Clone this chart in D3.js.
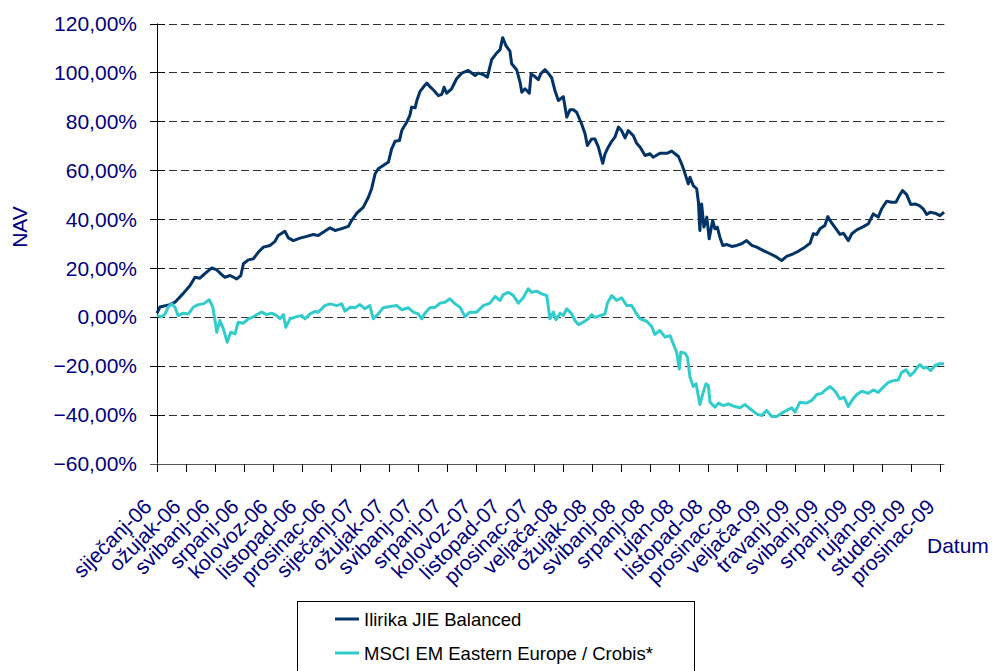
<!DOCTYPE html>
<html>
<head>
<meta charset="utf-8">
<script src="https://cdn.jsdelivr.net/npm/d3@7"></script>
<style>
  body { margin: 0; background: #fff; }
  text { font-family: "Liberation Sans", Arial, sans-serif; }
</style>
</head>
<body>
<svg id="chart" width="996" height="671"></svg>
<script>
// tick labels of the category axis (one per tick)
const monthLabels = ["siječanj-06", "ožujak-06", "svibanj-06", "srpanj-06", "kolovoz-06", "listopad-06",
  "prosinac-06", "siječanj-07", "ožujak-07", "svibanj-07", "srpanj-07", "kolovoz-07", "listopad-07",
  "prosinac-07", "veljača-08", "ožujak-08", "svibanj-08", "srpanj-08", "rujan-08", "listopad-08",
  "prosinac-08", "veljača-09", "travanj-09", "svibanj-09", "srpanj-09", "rujan-09", "studeni-09", "prosinac-09"];

const yTicks = [-60, -40, -20, 0, 20, 40, 60, 80, 100, 120];

const seriesNames = ["Ilirika JIE Balanced", "MSCI EM Eastern Europe / Crobis*"];

// [position on the tick axis, return in %]
const ilirika = [
  [0, 1.5], [0.10, 4], [0.45, 5], [0.62, 6], [0.90, 9.5], [1.14, 12.8], [1.31, 16.2], [1.48, 15.8],
  [1.66, 17.8], [1.89, 20], [2.06, 19.2], [2.23, 17.3], [2.34, 16.2], [2.52, 16.9], [2.75, 15.5],
  [2.89, 16.9], [2.98, 21.7], [3.15, 23.3], [3.32, 23.7], [3.49, 26.4], [3.67, 28.5], [3.90, 29.2],
  [4.07, 30.9], [4.18, 33.3], [4.41, 35], [4.53, 32.3], [4.70, 31.2], [4.93, 32.2], [5.16, 32.9],
  [5.39, 33.7], [5.56, 33.3], [5.73, 34.6], [5.97, 36.4], [6.14, 35.3], [6.37, 36.1], [6.60, 37],
  [6.71, 39.4], [6.89, 42.4], [7.11, 44.8], [7.29, 48.9], [7.40, 52.4], [7.52, 58.5], [7.63, 60.6],
  [7.80, 61.9], [7.98, 63.3], [8.09, 68.7], [8.21, 71.8], [8.36, 72.1], [8.44, 76.2], [8.61, 79.6],
  [8.72, 82.4], [8.78, 85.8], [8.90, 85.5], [8.96, 88.5], [9.07, 92.2], [9.18, 93.9], [9.30, 95.6],
  [9.41, 94.2], [9.55, 92.6], [9.70, 90.5], [9.82, 91], [9.90, 93.9], [9.99, 91.5], [10.16, 93.3],
  [10.33, 97.4], [10.51, 99.7], [10.73, 100.8], [10.97, 98.7], [11.08, 99.7], [11.25, 99.1],
  [11.39, 98], [11.54, 105.2], [11.69, 107.6], [11.83, 109.3], [11.92, 114.2], [12.03, 111],
  [12.17, 108.7], [12.23, 103.5], [12.40, 101.1], [12.52, 96], [12.58, 91.9], [12.69, 93.3],
  [12.84, 91.5], [12.90, 99.4], [13.03, 98.3], [13.15, 97], [13.23, 99.4], [13.38, 101.1],
  [13.49, 99.7], [13.61, 97.8], [13.72, 92.6], [13.84, 88.5], [14.01, 90.1], [14.13, 81.7],
  [14.24, 84.7], [14.36, 84.7], [14.47, 83.7], [14.64, 79], [14.76, 74.9], [14.84, 70.1],
  [14.99, 72.8], [15.10, 72.8], [15.22, 69.4], [15.37, 62.8], [15.45, 66.7], [15.56, 69.4],
  [15.68, 71.8], [15.79, 73.5], [15.91, 77.6], [16.02, 76.2], [16.14, 73.2], [16.25, 76.2],
  [16.42, 74.2], [16.54, 71], [16.66, 69.4], [16.83, 66], [17.00, 66.7], [17.11, 65.3],
  [17.34, 66.9], [17.58, 66.9], [17.75, 67.8], [17.98, 65.6], [18.09, 62.6], [18.21, 58.5],
  [18.32, 54.4], [18.38, 57.1], [18.49, 53.7], [18.61, 52.4], [18.67, 46.9], [18.72, 35.3],
  [18.78, 46.2], [18.86, 36.7], [18.96, 40.8], [19.04, 31.9], [19.16, 39.4], [19.24, 36],
  [19.32, 36.7], [19.41, 32.6], [19.51, 29.2], [19.64, 29.6], [19.82, 28.8], [19.99, 29.2],
  [20.16, 29.9], [20.33, 31.2], [20.51, 29.2], [20.68, 28.5], [20.91, 27.1], [21.14, 25.8],
  [21.37, 24.4], [21.54, 23], [21.71, 24.7], [21.94, 25.8], [22.11, 26.8], [22.34, 28.5],
  [22.52, 30.1], [22.63, 34], [22.75, 33.7], [22.86, 36], [23.03, 37.4], [23.13, 41], [23.27, 38.3],
  [23.44, 35.6], [23.55, 33.7], [23.67, 34.2], [23.84, 31.2], [23.96, 34], [24.13, 35.6],
  [24.36, 36.9], [24.53, 38.1], [24.70, 42.1], [24.87, 40.8], [24.99, 44.2], [25.16, 47.3],
  [25.33, 46.9], [25.48, 46.9], [25.60, 49.6], [25.71, 51.7], [25.85, 50], [25.99, 46],
  [26.14, 46.2], [26.29, 45.5], [26.42, 44.2], [26.54, 41.9], [26.66, 42.8], [26.83, 42.4],
  [27.00, 41.4], [27.14, 42.8]
];

const msci = [
  [0, 0.5], [0.16, 0], [0.28, 1.2], [0.39, 4.2], [0.51, 5.3], [0.62, 3.9], [0.73, 0.5], [0.91, 1.5],
  [1.08, 1.2], [1.25, 3.9], [1.42, 5], [1.60, 5.3], [1.80, 7], [1.92, 4.2], [2.00, -1.5], [2.06, -6.3],
  [2.17, -1.5], [2.29, -4.9], [2.42, -10.4], [2.54, -6.3], [2.69, -7], [2.80, -2.2], [2.98, -2.6],
  [3.15, -0.8], [3.32, 0], [3.49, 1.2], [3.61, 1.9], [3.78, 0.9], [3.96, 1.5], [4.13, 0.5],
  [4.24, -0.8], [4.36, 0.9], [4.44, -4.3], [4.59, -0.8], [4.82, 0.1], [4.99, 0.5], [5.10, -0.8],
  [5.28, 1.2], [5.45, 2.2], [5.56, 1.9], [5.79, 4.6], [5.97, 5.3], [6.20, 4.6], [6.37, 5.3],
  [6.48, 2.3], [6.66, 3.9], [6.83, 3.7], [7.00, 5], [7.17, 3.3], [7.34, 4.6], [7.46, -0.8],
  [7.63, 1.2], [7.80, 3.7], [8.03, 4.2], [8.27, 4.6], [8.44, 2.9], [8.67, 3.7], [8.84, 1.9],
  [9.01, 1.2], [9.13, -0.8], [9.24, 1.5], [9.41, 3.7], [9.59, 3.9], [9.76, 5.6], [9.93, 6],
  [10.10, 7.4], [10.28, 5.3], [10.45, 3.9], [10.62, 0.1], [10.79, 1.9], [11.02, 1.9], [11.25, 4.6],
  [11.48, 5.6], [11.66, 8.3], [11.83, 6.7], [11.94, 9.1], [12.11, 10], [12.29, 8.7], [12.46, 5.6],
  [12.63, 7.8], [12.80, 11.5], [12.92, 10], [13.09, 10.5], [13.27, 9.4], [13.44, 8.7], [13.55, -0.8],
  [13.67, 1.9], [13.76, -1.2], [13.90, 1.5], [14.01, 0.5], [14.13, 3.3], [14.30, 1.2], [14.41, -1.5],
  [14.53, -3.2], [14.70, -2.2], [14.87, -0.8], [14.99, 0.9], [15.10, -0.2], [15.28, 0.5],
  [15.45, 1.2], [15.53, 5.6], [15.68, 8.7], [15.85, 6.7], [16.02, 7.8], [16.20, 4.6], [16.37, 4.6],
  [16.54, 1.2], [16.66, -0.8], [16.89, -1.8], [17.06, -4], [17.17, -7.2], [17.34, -5.6],
  [17.52, -8.3], [17.69, -7.7], [17.80, -11], [17.92, -14.5], [18.01, -21.3], [18.06, -14.5],
  [18.21, -14.9], [18.29, -16.5], [18.38, -24.7], [18.49, -28.5], [18.59, -27.4], [18.72, -35.9],
  [18.82, -31.5], [18.93, -27.4], [19.01, -28.1], [19.07, -34.9], [19.24, -37], [19.36, -35.3],
  [19.53, -36.3], [19.70, -35.6], [19.93, -36.7], [20.10, -37.2], [20.28, -35.9], [20.45, -37.6],
  [20.68, -39.7], [20.85, -40.4], [21.02, -38.3], [21.20, -40.8], [21.37, -40.8], [21.54, -39.4],
  [21.71, -38.3], [21.89, -37.2], [22.00, -39], [22.17, -34.9], [22.40, -35.3], [22.58, -34.2],
  [22.75, -31.8], [22.92, -31.3], [23.09, -29.5], [23.21, -28.5], [23.38, -30.4], [23.55, -33.6],
  [23.69, -32.9], [23.84, -36.7], [23.96, -34.2], [24.13, -31.8], [24.30, -30.4], [24.53, -31.3],
  [24.70, -29.9], [24.87, -30.9], [25.04, -28.8], [25.22, -26.8], [25.39, -26.1], [25.56, -25.8],
  [25.68, -22.7], [25.83, -21.7], [25.97, -24], [26.10, -22.7], [26.22, -20.6], [26.31, -19.5],
  [26.42, -20.9], [26.54, -20.6], [26.68, -22], [26.83, -19.9], [27.00, -19.2], [27.14, -19.2]
];

const colors = ["#003366", "#33cccc"];
const navy = "#000080";

const svg = d3.select("#chart");

const x = d3.scaleLinear().domain([0, 27]).range([157, 940]);
const y = d3.scaleLinear().domain([-60, 120]).range([463.5, 23.5]);
const xEnd = x(27.15);

// horizontal dashed grid
svg.append("g")
  .selectAll("line")
  .data(yTicks.filter(d => d > -60))
  .join("line")
  .attr("x1", x(0)).attr("x2", xEnd)
  .attr("y1", d => Math.round(y(d)) + 0.5).attr("y2", d => Math.round(y(d)) + 0.5)
  .attr("stroke", "#333")
  .attr("stroke-dasharray", "8,4");

// y axis (ticks cross the line)
const yAxis = svg.append("g");
yAxis.append("line")
  .attr("x1", 157.5).attr("x2", 157.5)
  .attr("y1", y(120)).attr("y2", y(-60))
  .attr("stroke", "#000");
yAxis.selectAll(".tk")
  .data(yTicks)
  .join("line")
  .attr("x1", 150).attr("x2", 165)
  .attr("y1", d => Math.round(y(d)) + 0.5).attr("y2", d => Math.round(y(d)) + 0.5)
  .attr("stroke", "#000");
yAxis.selectAll("text")
  .data(yTicks)
  .join("text")
  .attr("x", 137)
  .attr("y", d => y(d))
  .attr("dy", "0.36em")
  .attr("text-anchor", "end")
  .attr("font-size", 21)
  .attr("fill", navy)
  .text(d => d3.format(".2f")(d).replace(".", ",") + "%");

// x axis
const xAxis = svg.append("g");
xAxis.append("line")
  .attr("x1", 150).attr("x2", xEnd)
  .attr("y1", 464.5).attr("y2", 464.5)
  .attr("stroke", "#555");
xAxis.selectAll(".tk")
  .data(monthLabels)
  .join("line")
  .attr("x1", (d, i) => Math.round(x(i)) + 0.5).attr("x2", (d, i) => Math.round(x(i)) + 0.5)
  .attr("y1", 464).attr("y2", 472)
  .attr("stroke", "#000");
xAxis.selectAll("text")
  .data(monthLabels)
  .join("text")
  .attr("transform", (d, i) => `translate(${x(i) - 4},${508}) rotate(-45)`)
  .attr("text-anchor", "end")
  .attr("font-size", 21)
  .attr("fill", navy)
  .text(d => d);

// axis titles
svg.append("text")
  .attr("transform", "translate(27,227) rotate(-90)")
  .attr("text-anchor", "middle")
  .attr("font-size", 21)
  .attr("fill", navy)
  .text("NAV");
svg.append("text")
  .attr("x", 927).attr("y", 553)
  .attr("font-size", 21)
  .attr("fill", navy)
  .text("Datum");

// the two lines
const line = d3.line().x(d => x(d[0])).y(d => y(d[1]));
[ilirika, msci].forEach((s, i) => {
  svg.append("path")
    .datum(s)
    .attr("d", line)
    .attr("fill", "none")
    .attr("stroke", colors[i])
    .attr("stroke-width", 3)
    .attr("stroke-linejoin", "round");
});

// legend (box runs off the bottom edge, as in the original)
const legend = svg.append("g");
legend.append("rect")
  .attr("x", 297.5).attr("y", 601.5)
  .attr("width", 397).attr("height", 90)
  .attr("fill", "#fff")
  .attr("stroke", "#000");
seriesNames.forEach((name, i) => {
  const ly = 619 + i * 34;
  legend.append("line")
    .attr("x1", 335).attr("x2", 359)
    .attr("y1", ly).attr("y2", ly)
    .attr("stroke", colors[i])
    .attr("stroke-width", 3);
  legend.append("text")
    .attr("x", 364).attr("y", ly)
    .attr("dy", "0.36em")
    .attr("font-size", 18.5)
    .attr("fill", "#000")
    .text(name);
});
</script>
</body>
</html>
